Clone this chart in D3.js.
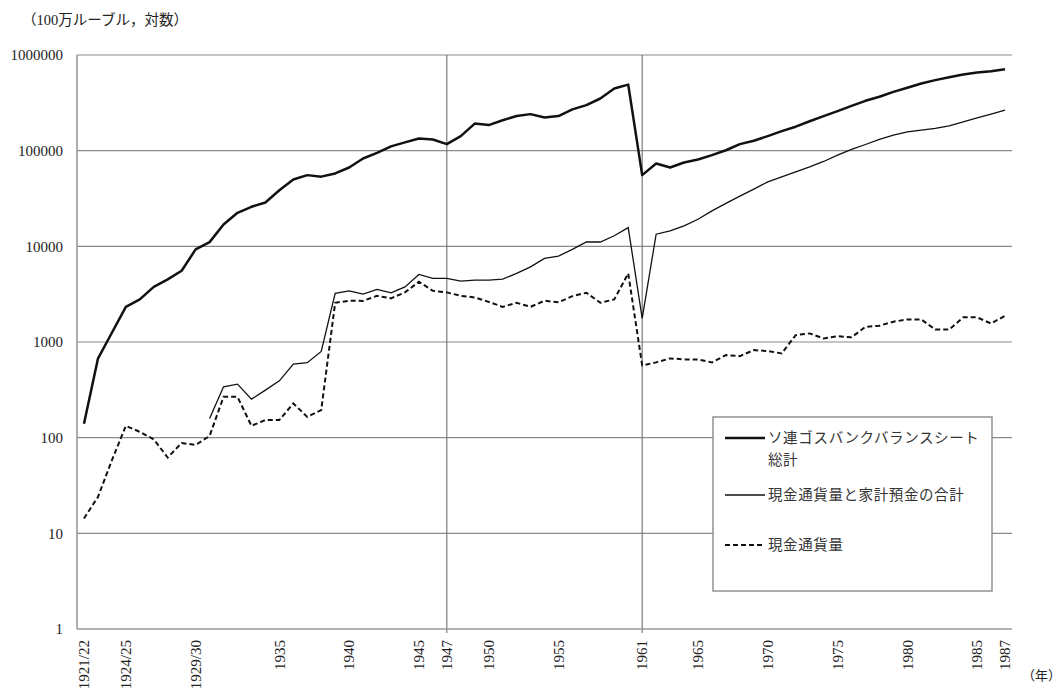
<!DOCTYPE html>
<html>
<head>
<meta charset="utf-8">
<script src="https://cdn.jsdelivr.net/npm/d3@7"></script>
<style>
  html, body { margin: 0; padding: 0; background: #fff; }
  svg { display: block; }
</style>
</head>
<body>
<svg id="chart" width="1063" height="688"></svg>
<script>
// Years: fiscal years 1921/22–1929/30, then calendar years 1930–1987
const fiscalYears = ["1921/22","1922/23","1923/24","1924/25","1925/26","1926/27","1927/28","1928/29","1929/30"];
const calendarYears = d3.range(1930, 1988).map(String);
const years = fiscalYears.concat(calendarYears);

const tickYears = ["1921/22","1924/25","1929/30","1935","1940","1945","1947","1950","1955","1961","1965","1970","1975","1980","1985","1987"];
const markerYears = ["1947", "1961"];
const yTicks = [1, 10, 100, 1000, 10000, 100000, 1000000];

// Gosbank balance sheet total (million rubles)
const gosbankTotal = [
  140, 670, 1250, 2330, 2790, 3770, 4510, 5550, 9290, 11060,
  16900, 22400, 25900, 28700, 38600, 50000, 55500, 53500, 57800, 66700,
  82800, 94800, 111000, 122000, 134000, 131000, 117000, 142000, 192000, 185000,
  208000, 230000, 241000, 222000, 230000, 270000, 299000, 351000, 447000, 490000,
  55500, 73400, 66700, 75200, 80900, 89800, 101000, 117000, 127000, 142000,
  160000, 178000, 203000, 230000, 259000, 294000, 332000, 366000, 412000, 454000,
  504000, 546000, 586000, 625000, 656000, 677000, 711000
];

// Currency in circulation plus household deposits
const cashPlusDeposits = [
  null, null, null, null, null, null, null, null, null, 159,
  340, 363, 253, 314, 393, 587, 608, 797, 3220, 3430,
  3160, 3550, 3270, 3770, 5080, 4620, 4620, 4330, 4430, 4430,
  4540, 5210, 6110, 7480, 7910, 9290, 11100, 11100, 12900, 15700,
  1770, 13400, 14500, 16400, 19200, 23500, 28100, 33500, 39600, 47200,
  53200, 60000, 67700, 77100, 89800, 103000, 116000, 131000, 145000, 157000,
  164000, 171000, 182000, 200000, 220000, 241000, 265000
];

// Currency in circulation
const cashInCirculation = [
  14.3, 24, 58, 133, 115, 96, 62, 88, 84, 104,
  267, 267, 133, 153, 153, 228, 165, 194, 2570, 2700,
  2690, 3040, 2860, 3300, 4260, 3430, 3300, 3040, 2920, 2630,
  2330, 2570, 2330, 2700, 2600, 3020, 3270, 2570, 2790, 5210,
  570, 612, 674, 658, 658, 612, 730, 712, 823, 804,
  760, 1180, 1230, 1090, 1150, 1120, 1440, 1480, 1630, 1720,
  1720, 1350, 1350, 1810, 1810, 1560, 1880
];

const seriesNames = ["ソ連ゴスバンクバランスシート", "総計", "現金通貨量と家計預金の合計", "現金通貨量"];

const svg = d3.select("#chart");
const plotL = 77, plotR = 1012, plotT = 55, plotB = 629;
const serif = "'Liberation Serif', 'Times New Roman', 'Noto Sans CJK JP', serif";
const jp = "'Noto Sans CJK JP', sans-serif";

const x = d3.scaleBand().domain(years).range([plotL, plotR]).padding(0);
const y = d3.scaleLog().domain([1, 1000000]).range([plotB, plotT]);
const cx = d => x(d) + x.bandwidth() / 2;

// Horizontal gridlines at each decade
svg.append("g").selectAll("line")
  .data(yTicks.filter(v => v > 1))
  .join("line")
  .attr("x1", plotL).attr("x2", plotR)
  .attr("y1", d => y(d)).attr("y2", d => y(d))
  .attr("stroke", "#8a8a8a").attr("stroke-width", 1.2);

// Vertical marker lines
svg.append("g").selectAll("line")
  .data(markerYears)
  .join("line")
  .attr("x1", d => cx(d)).attr("x2", d => cx(d))
  .attr("y1", plotT).attr("y2", plotB + 4)
  .attr("stroke", "#707070").attr("stroke-width", 1.1);

// Left and bottom axis lines
svg.append("line").attr("x1", plotL).attr("x2", plotL).attr("y1", plotT).attr("y2", plotB)
  .attr("stroke", "#999").attr("stroke-width", 1.6);
svg.append("line").attr("x1", plotL).attr("x2", plotR).attr("y1", plotB).attr("y2", plotB)
  .attr("stroke", "#999").attr("stroke-width", 1.6);

// Y tick labels
svg.append("g").selectAll("text")
  .data(yTicks)
  .join("text")
  .attr("x", 63).attr("y", d => y(d))
  .attr("dy", "0.35em")
  .attr("text-anchor", "end")
  .attr("font-family", serif).attr("font-size", 15).attr("fill", "#222")
  .text(d => d3.format("d")(d));

// X tick labels, rotated
svg.append("g").selectAll("text")
  .data(tickYears)
  .join("text")
  .attr("transform", d => `translate(${cx(d)},640) rotate(-90)`)
  .attr("dy", "0.35em")
  .attr("text-anchor", "end")
  .attr("font-family", serif).attr("font-size", 15).attr("fill", "#222")
  .text(d => d);

// Unit labels
svg.append("text").attr("x", 22).attr("y", 25)
  .attr("font-family", serif).attr("font-size", 14.5).attr("fill", "#222")
  .text("（100万ルーブル，対数）");
svg.append("text").attr("x", 1061).attr("y", 680)
  .attr("text-anchor", "end")
  .attr("font-family", serif).attr("font-size", 13).attr("fill", "#222")
  .text("（年）");

// Series lines
const line = d3.line()
  .defined(d => d.v != null)
  .x(d => cx(d.year))
  .y(d => y(d.v));
const toPts = arr => years.map((yr, i) => ({ year: yr, v: arr[i] }));

svg.append("path").datum(toPts(cashInCirculation))
  .attr("d", line).attr("fill", "none")
  .attr("stroke", "#111").attr("stroke-width", 2).attr("stroke-dasharray", "5,3");
svg.append("path").datum(toPts(cashPlusDeposits))
  .attr("d", line).attr("fill", "none")
  .attr("stroke", "#111").attr("stroke-width", 1.3);
svg.append("path").datum(toPts(gosbankTotal))
  .attr("d", line).attr("fill", "none")
  .attr("stroke", "#111").attr("stroke-width", 2.5).attr("stroke-linejoin", "round");

// Legend
const lg = svg.append("g");
lg.append("rect").attr("x", 713).attr("y", 417).attr("width", 279).attr("height", 174)
  .attr("fill", "#fff").attr("stroke", "#8a8a8a").attr("stroke-width", 1.4);
const legendRows = [
  { y: 438, width: 2.5, dash: null, label: seriesNames[0], sub: seriesNames[1] },
  { y: 495, width: 1.3, dash: null, label: seriesNames[2] },
  { y: 545, width: 2, dash: "5,3", label: seriesNames[3] }
];
legendRows.forEach(r => {
  lg.append("line").attr("x1", 725).attr("x2", 765).attr("y1", r.y).attr("y2", r.y)
    .attr("stroke", "#111").attr("stroke-width", r.width)
    .attr("stroke-dasharray", r.dash);
  lg.append("text").attr("x", 768).attr("y", r.y).attr("dy", "0.35em")
    .attr("font-family", jp).attr("font-size", 14.5).attr("letter-spacing", 0.6)
    .attr("fill", "#333").text(r.label);
  if (r.sub) {
    lg.append("text").attr("x", 768).attr("y", r.y + 22).attr("dy", "0.35em")
      .attr("font-family", jp).attr("font-size", 14.5).attr("letter-spacing", 0.6)
      .attr("fill", "#333").text(r.sub);
  }
});
</script>
</body>
</html>
